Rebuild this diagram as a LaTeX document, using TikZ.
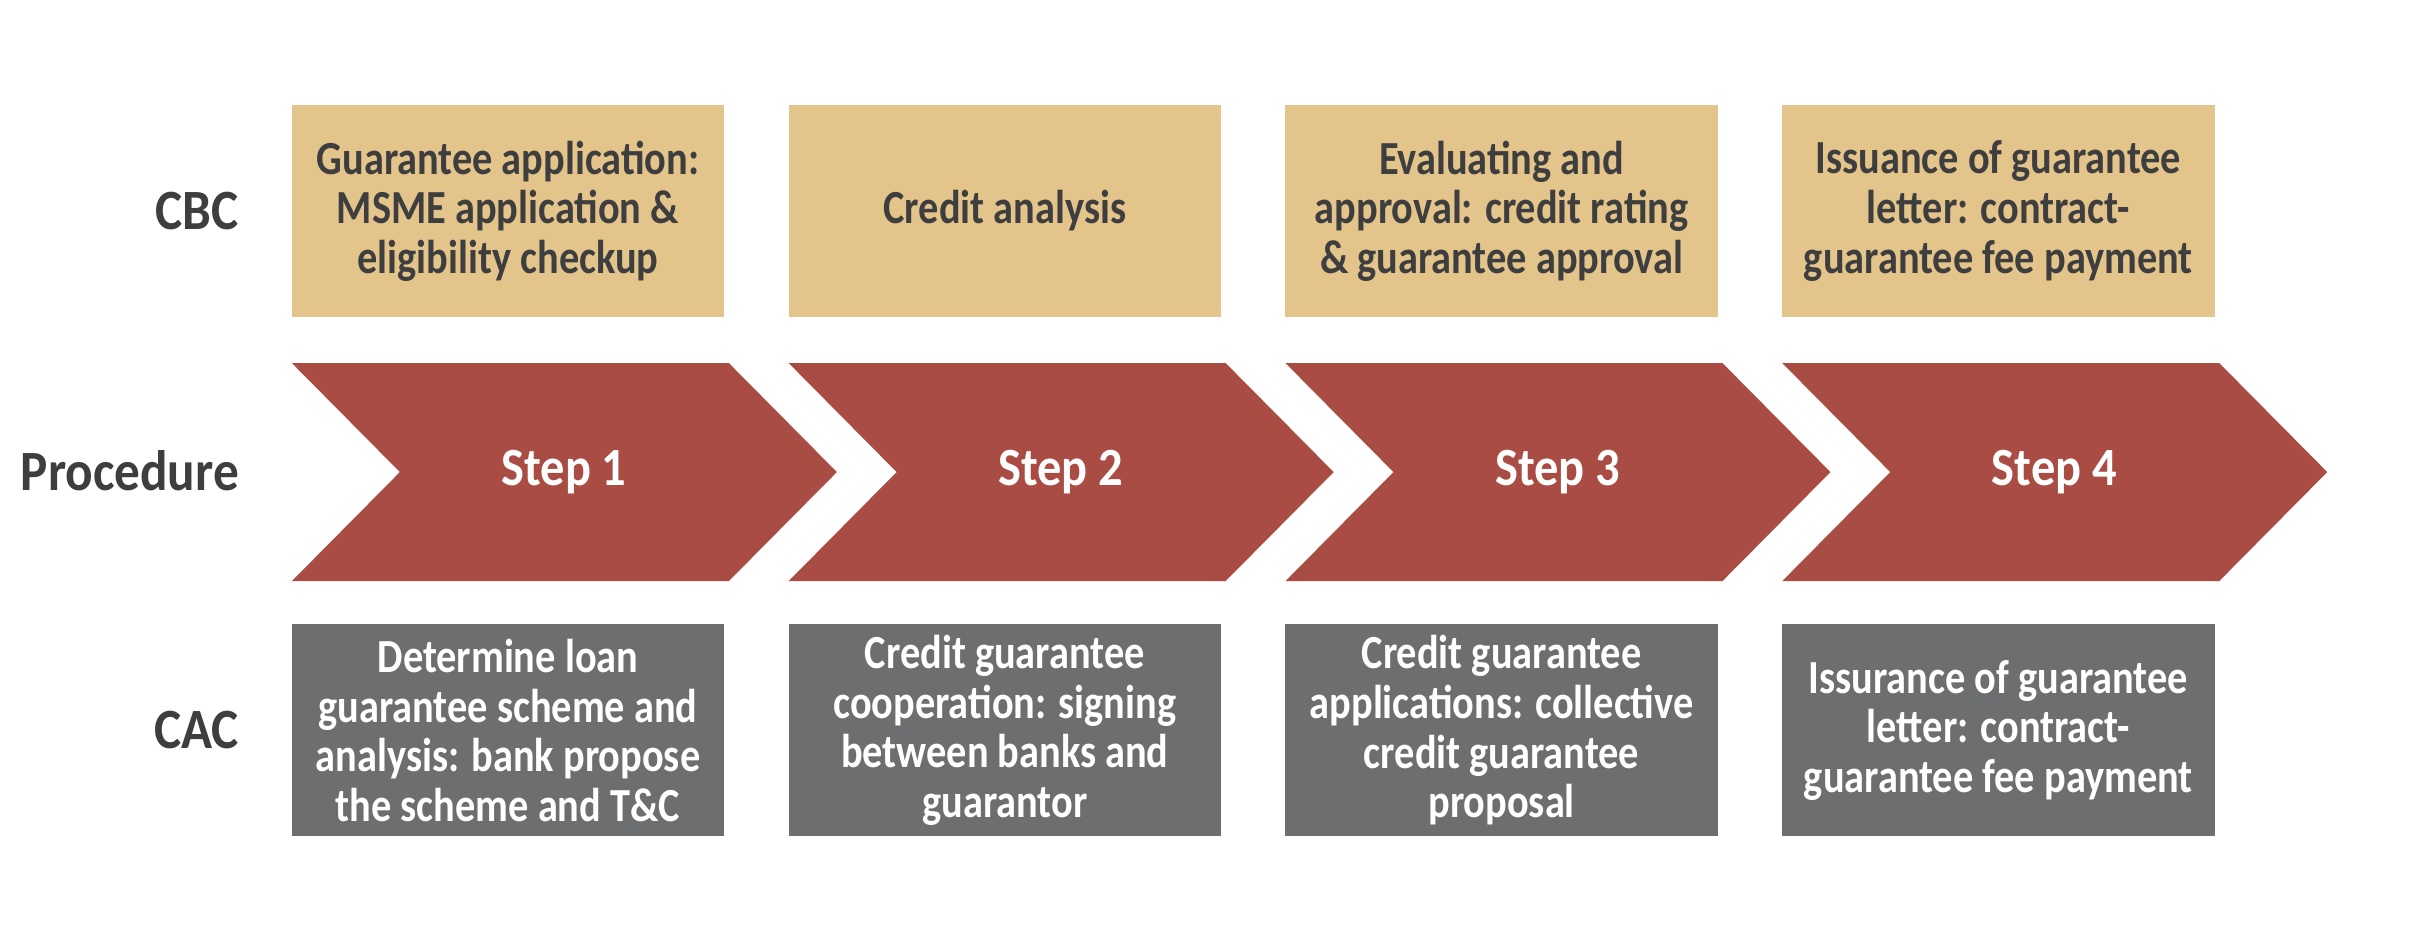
\documentclass[tikz,border=0pt]{standalone}
\usepackage{fontspec}
\setmainfont{Carlito}[FakeStretch=0.9]
\newfontfamily\boxfamily{Carlito}[FakeStretch=0.85]
\newfontfamily\rowfamily{Carlito}[FakeStretch=0.9]
\usetikzlibrary{positioning}

\definecolor{cbctan}{HTML}{E3C48B}
\definecolor{stepred}{HTML}{A94C43}
\definecolor{cacgray}{HTML}{6D6E70}
\definecolor{textdark}{HTML}{3E3E3E}

\newcommand{\boxtextfont}{\boxfamily\bfseries\fontsize{13.5}{14.1}\selectfont}
\newcommand{\rowtextfont}{\rowfamily\bfseries\fontsize{16.2}{17}\selectfont}
\newcommand{\steptextfont}{\bfseries\fontsize{15.3}{16}\selectfont}

\tikzset{
  cbcbox/.style={fill=cbctan, text=textdark, minimum width=4.32cm, minimum height=2.12cm, inner sep=0pt, outer sep=0pt, align=center, font=\boxtextfont},
  cacbox/.style={cbcbox, fill=cacgray, text=white},
  rowlabel/.style={text=textdark, anchor=east, inner sep=0pt, outer sep=0pt, font=\rowtextfont},
  steplabel/.style={text=white, inner sep=0pt, font=\steptextfont}
}

\begin{document}
\begin{tikzpicture}[x=0.01cm,y=0.01cm]
  \useasboundingbox (0,0) rectangle (2429,-944);

  \node[cbcbox] (cbc1) at (508,-211) {Guarantee application:\\MSME application \&\\eligibility checkup};
  \node[cbcbox] (cbc2) [right=0.645cm of cbc1] {Credit analysis};
  \node[cbcbox] (cbc3) [right=0.645cm of cbc2] {Evaluating and\\approval: credit rating\\\& guarantee approval};
  \node[cbcbox] (cbc4) [right=0.645cm of cbc3] {Issuance of guarantee\\letter: contract-\\guarantee fee payment};

  \node[cacbox] (cac1) [below=3.07cm of cbc1] {Determine loan\\guarantee scheme and\\analysis: bank propose\\the scheme and T\&C};
  \node[cacbox] (cac2) [below=3.07cm of cbc2] {Credit guarantee\\cooperation: signing\\between banks and\\guarantor};
  \node[cacbox] (cac3) [below=3.07cm of cbc3] {Credit guarantee\\applications: collective\\credit guarantee\\proposal};
  \node[cacbox] (cac4) [below=3.07cm of cbc4] {Issurance of guarantee\\letter: contract-\\guarantee fee payment};

  % chevrons of the procedure row
  \foreach \i in {1,...,4}{
    \fill[stepred] (cbc\i.south west) ++(0,-46) -- ++(437,0) -- ++(108,-109) -- ++(-108,-109) -- ++(-437,0) -- ++(108,109) -- cycle;
    \path (cbc\i.south) ++(56,-155) node[steplabel] (step\i) {Step \i};
  }

  \node[rowlabel] (cbclab) [left=0.53cm of cbc1] {CBC};
  \node[rowlabel] (proclab) at (239,-471) {Procedure};
  \node[rowlabel] (caclab) [left=0.53cm of cac1] {CAC};

\end{tikzpicture}
\end{document}
